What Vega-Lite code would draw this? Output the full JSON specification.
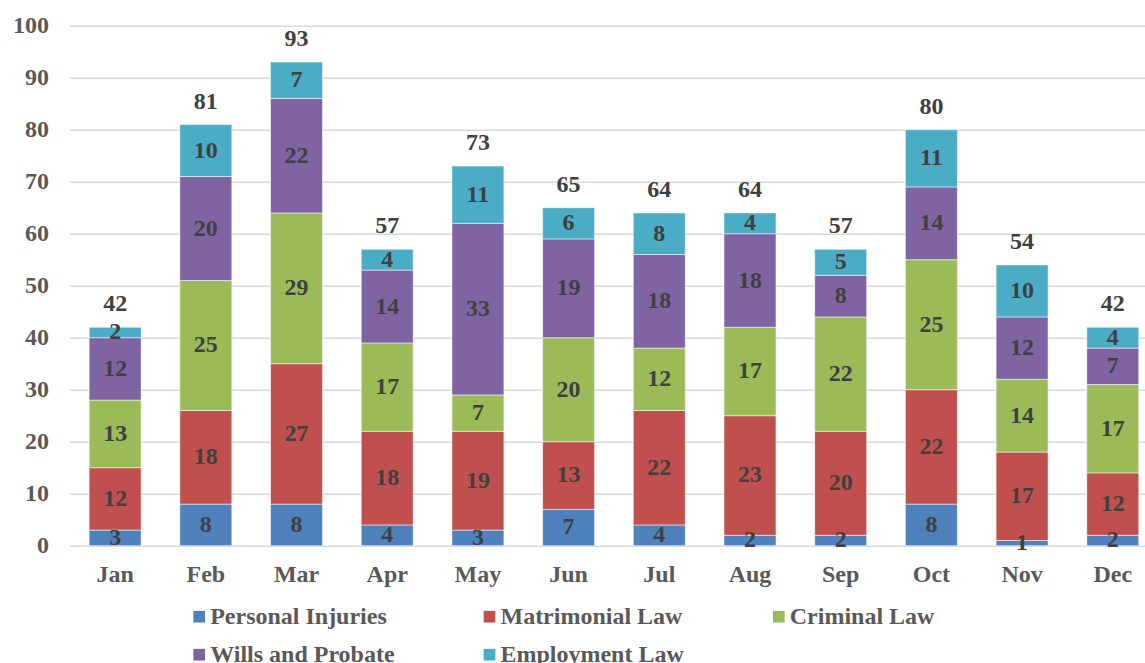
{
  "$schema": "https://vega.github.io/schema/vega-lite/v6.json",
  "width": 1075,
  "height": 520,
  "autosize": {"type": "none"},
  "padding": {"left": 69.6, "top": 25.7, "right": 0, "bottom": 117.3},
  "background": "white",
  "config": {"view": {"stroke": null}, "font": "Liberation Serif"},
  "data": {
    "values": [
      {"month": "Jan", "series": "Personal Injuries", "value": 3},
      {"month": "Jan", "series": "Matrimonial Law", "value": 12},
      {"month": "Jan", "series": "Criminal Law", "value": 13},
      {"month": "Jan", "series": "Wills and Probate", "value": 12},
      {"month": "Jan", "series": "Employment Law", "value": 2},
      {"month": "Feb", "series": "Personal Injuries", "value": 8},
      {"month": "Feb", "series": "Matrimonial Law", "value": 18},
      {"month": "Feb", "series": "Criminal Law", "value": 25},
      {"month": "Feb", "series": "Wills and Probate", "value": 20},
      {"month": "Feb", "series": "Employment Law", "value": 10},
      {"month": "Mar", "series": "Personal Injuries", "value": 8},
      {"month": "Mar", "series": "Matrimonial Law", "value": 27},
      {"month": "Mar", "series": "Criminal Law", "value": 29},
      {"month": "Mar", "series": "Wills and Probate", "value": 22},
      {"month": "Mar", "series": "Employment Law", "value": 7},
      {"month": "Apr", "series": "Personal Injuries", "value": 4},
      {"month": "Apr", "series": "Matrimonial Law", "value": 18},
      {"month": "Apr", "series": "Criminal Law", "value": 17},
      {"month": "Apr", "series": "Wills and Probate", "value": 14},
      {"month": "Apr", "series": "Employment Law", "value": 4},
      {"month": "May", "series": "Personal Injuries", "value": 3},
      {"month": "May", "series": "Matrimonial Law", "value": 19},
      {"month": "May", "series": "Criminal Law", "value": 7},
      {"month": "May", "series": "Wills and Probate", "value": 33},
      {"month": "May", "series": "Employment Law", "value": 11},
      {"month": "Jun", "series": "Personal Injuries", "value": 7},
      {"month": "Jun", "series": "Matrimonial Law", "value": 13},
      {"month": "Jun", "series": "Criminal Law", "value": 20},
      {"month": "Jun", "series": "Wills and Probate", "value": 19},
      {"month": "Jun", "series": "Employment Law", "value": 6},
      {"month": "Jul", "series": "Personal Injuries", "value": 4},
      {"month": "Jul", "series": "Matrimonial Law", "value": 22},
      {"month": "Jul", "series": "Criminal Law", "value": 12},
      {"month": "Jul", "series": "Wills and Probate", "value": 18},
      {"month": "Jul", "series": "Employment Law", "value": 8},
      {"month": "Aug", "series": "Personal Injuries", "value": 2},
      {"month": "Aug", "series": "Matrimonial Law", "value": 23},
      {"month": "Aug", "series": "Criminal Law", "value": 17},
      {"month": "Aug", "series": "Wills and Probate", "value": 18},
      {"month": "Aug", "series": "Employment Law", "value": 4},
      {"month": "Sep", "series": "Personal Injuries", "value": 2},
      {"month": "Sep", "series": "Matrimonial Law", "value": 20},
      {"month": "Sep", "series": "Criminal Law", "value": 22},
      {"month": "Sep", "series": "Wills and Probate", "value": 8},
      {"month": "Sep", "series": "Employment Law", "value": 5},
      {"month": "Oct", "series": "Personal Injuries", "value": 8},
      {"month": "Oct", "series": "Matrimonial Law", "value": 22},
      {"month": "Oct", "series": "Criminal Law", "value": 25},
      {"month": "Oct", "series": "Wills and Probate", "value": 14},
      {"month": "Oct", "series": "Employment Law", "value": 11},
      {"month": "Nov", "series": "Personal Injuries", "value": 1},
      {"month": "Nov", "series": "Matrimonial Law", "value": 17},
      {"month": "Nov", "series": "Criminal Law", "value": 14},
      {"month": "Nov", "series": "Wills and Probate", "value": 12},
      {"month": "Nov", "series": "Employment Law", "value": 10},
      {"month": "Dec", "series": "Personal Injuries", "value": 2},
      {"month": "Dec", "series": "Matrimonial Law", "value": 12},
      {"month": "Dec", "series": "Criminal Law", "value": 17},
      {"month": "Dec", "series": "Wills and Probate", "value": 7},
      {"month": "Dec", "series": "Employment Law", "value": 4}
    ]
  },
  "layer": [
    {
      "transform": [{"stack": "value", "groupby": ["month"], "as": ["v0", "v1"]}],
      "layer": [
        {
          "mark": {"type": "bar", "stroke": "#ffffff", "strokeWidth": 0.75, "strokeOpacity": 0.7},
          "encoding": {
            "x": {
              "field": "month", "type": "nominal",
              "sort": ["Jan","Feb","Mar","Apr","May","Jun","Jul","Aug","Sep","Oct","Nov","Dec"],
              "scale": {"paddingInner": 0.427, "paddingOuter": 0.14, "align": 0.77},
              "axis": {"title": null, "domain": false, "ticks": false, "tickSize": 0, "labelAngle": 0, "labelPadding": 16.5,
                       "labelFont": "Liberation Serif", "labelFontWeight": "bold", "labelFontSize": 24, "labelColor": "#595959"}
            },
            "y": {
              "field": "v1", "type": "quantitative",
              "scale": {"domain": [0, 100], "nice": false},
              "axis": {"title": null, "domain": false, "ticks": false, "tickSize": 0, "labelPadding": 21,
                       "values": [0,10,20,30,40,50,60,70,80,90,100],
                       "grid": true, "gridColor": "#d9d9d9", "gridWidth": 1.5,
                       "labelFont": "Liberation Serif", "labelFontWeight": "bold", "labelFontSize": 24, "labelColor": "#595959"}
            },
            "y2": {"field": "v0"},
            "color": {
              "field": "series", "type": "nominal",
              "scale": {
                "domain": ["Personal Injuries", "Matrimonial Law", "Criminal Law", "Wills and Probate", "Employment Law"],
                "range": ["#4F81BD", "#C0504D", "#9BBB59", "#8064A2", "#4BACC6"]
              },
              "legend": {
                "orient": "none", "legendX": 117.6, "legendY": 579, "direction": "horizontal", "columns": 3,
                "title": null, "symbolType": "square", "symbolSize": 137, "symbolStrokeWidth": 0,
                "labelFont": "Liberation Serif", "labelFontWeight": "bold", "labelFontSize": 24, "labelColor": "#595959",
                "columnPadding": 82.3, "rowPadding": 14, "labelOffset": -1, "labelLimit": 400, "padding": 0
              }
            }
          }
        },
        {
          "transform": [
            {"fold": ["v0", "v1"], "as": ["edge", "pos"]},
            {"aggregate": [{"op": "mean", "field": "pos", "as": "mid"}], "groupby": ["month", "series", "value"]}
          ],
          "mark": {"type": "text", "font": "Liberation Serif", "fontWeight": "bold", "fontSize": 24, "color": "#404040", "baseline": "middle"},
          "encoding": {
            "x": {"field": "month", "type": "nominal", "sort": ["Jan","Feb","Mar","Apr","May","Jun","Jul","Aug","Sep","Oct","Nov","Dec"]},
            "y": {"field": "mid", "type": "quantitative"},
            "text": {"field": "value", "type": "quantitative"}
          }
        }
      ]
    },
    {
      "transform": [{"aggregate": [{"op": "sum", "field": "value", "as": "total"}], "groupby": ["month"]}],
      "mark": {"type": "text", "font": "Liberation Serif", "fontWeight": "bold", "fontSize": 24, "color": "#404040", "baseline": "alphabetic", "dy": -16},
      "encoding": {
        "x": {"field": "month", "type": "nominal", "sort": ["Jan","Feb","Mar","Apr","May","Jun","Jul","Aug","Sep","Oct","Nov","Dec"]},
        "y": {"field": "total", "type": "quantitative"},
        "text": {"field": "total", "type": "quantitative"}
      }
    }
  ]
}
